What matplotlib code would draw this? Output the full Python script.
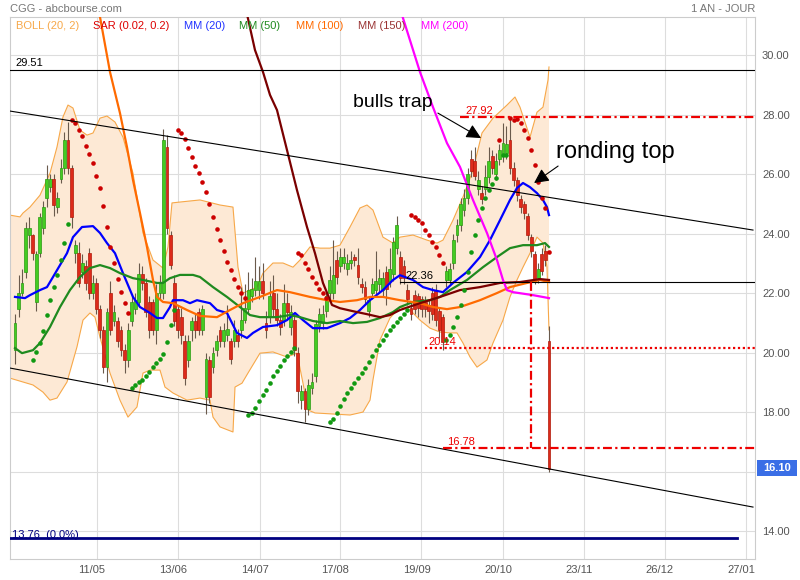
import matplotlib
matplotlib.use("Agg")
import matplotlib.pyplot as plt
import numpy as np
from matplotlib.patches import Rectangle
from matplotlib.transforms import ScaledTranslation

plt.rcParams["font.family"] = ["Liberation Sans", "DejaVu Sans"]

# --- daily candles (index = trading day) ---------------------------------
opens = [20.1, 21.45, 22.0, 22.7, 23.95, 23.95, 21.7, 23.35, 24.2, 25.2,
         25.55, 25.85, 24.9, 25.85, 26.2, 27.15, 26.2, 23.35, 23.35, 22.7,
         22.9, 23.35, 22.0, 22.35, 21.45, 20.75, 19.5, 22.0, 21.05, 21.05,
         20.75, 20.1, 19.75, 21.05, 21.45, 21.7, 22.65, 22.35, 21.7, 21.7,
         20.75, 22.0, 22.0, 26.9, 23.95, 22.35, 21.45, 21.2, 20.4, 19.75,
         20.75, 21.05, 21.35, 20.75, 18.5, 19.75, 19.5, 20.1, 20.75, 20.4,
         20.6, 20.4, 20.4, 20.6, 20.75, 21.1, 21.45, 21.9, 22.1, 22.1,
         22.4, 21.0, 21.2, 22.0, 21.45, 21.1, 21.1, 21.65, 20.85, 21.1,
         20.0, 18.4, 18.7, 18.1, 18.8, 19.2, 20.9, 21.0, 21.4, 22.0,
         22.0, 23.1, 22.9, 23.0, 22.8, 23.0, 23.2, 22.95, 22.3, 22.2,
         21.4, 22.0, 22.1, 22.3, 22.1, 22.7, 22.4, 22.65, 23.5, 23.2,
         22.9, 22.1, 21.5, 21.95, 21.9, 21.8, 21.7, 21.6, 22.0, 22.1,
         21.4, 21.2, 22.45, 22.45, 23.0, 23.95, 24.3, 24.8, 25.2, 26.5,
         26.45, 25.5, 25.35, 25.5, 25.9, 26.6, 26.0, 26.5, 26.6, 26.7,
         27.15, 26.2, 25.8, 25.15, 25.0, 24.6, 23.9, 23.3, 22.5, 23.3,
         23.4, 20.4]
closes = [21.0, 22.0, 22.35, 24.2, 24.2, 23.35, 23.3, 24.55, 24.9, 25.85,
          25.85, 24.95, 25.2, 26.2, 27.15, 26.2, 24.55, 23.6, 22.35, 23.0,
          22.35, 22.0, 22.35, 21.45, 20.75, 19.5, 21.35, 20.75, 21.35, 20.4,
          20.1, 19.75, 20.75, 21.7, 21.75, 22.65, 22.35, 21.35, 20.75, 20.75,
          22.0, 22.35, 27.15, 24.2, 22.95, 21.05, 20.75, 20.6, 19.15, 20.4,
          21.05, 20.75, 20.75, 21.45, 19.8, 18.5, 20.0, 20.4, 20.4, 20.75,
          20.8, 19.8, 20.75, 20.4, 21.1, 21.5, 22.1, 22.15, 22.4, 22.4,
          22.0, 20.75, 21.9, 21.45, 21.1, 20.85, 21.65, 21.35, 21.35, 20.1,
          18.7, 18.7, 18.1, 18.9, 19.0, 20.95, 21.3, 21.3, 21.9, 22.45,
          22.6, 22.55, 23.2, 23.2, 23.0, 23.1, 23.1, 22.55, 22.2, 21.8,
          21.75, 22.3, 22.4, 22.5, 22.5, 22.15, 22.8, 23.7, 24.3, 22.5,
          22.5, 21.8, 21.3, 21.45, 21.5, 21.45, 21.45, 21.4, 21.3, 21.1,
          20.75, 20.35, 22.75, 22.8, 23.8, 24.3, 25.0, 25.2, 26.0, 26.1,
          25.95, 25.8, 25.15, 25.9, 26.45, 26.2, 26.45, 26.8, 27.05, 27.0,
          26.2, 25.8, 25.3, 24.9, 24.7, 23.95, 23.4, 22.45, 22.8, 22.75,
          23.1, 16.1]
highs = [21.3, 22.6, 22.8, 24.4, 24.55, 24.0, 23.4, 24.7, 25.1, 26.3,
         26.0, 26.0, 25.4, 26.5, 27.4, 27.75, 26.3, 23.8, 23.7, 23.3,
         23.1, 23.5, 22.6, 22.5, 21.6, 20.9, 21.5, 22.4, 21.6, 21.2,
         20.9, 20.3, 21.0, 21.9, 22.0, 23.0, 22.9, 22.5, 21.9, 21.8,
         22.3, 22.6, 27.5, 27.3, 24.1, 22.6, 21.6, 21.5, 20.6, 20.6,
         21.2, 21.3, 21.5, 21.6, 20.0, 19.9, 20.2, 20.6, 20.9, 21.0,
         21.6, 20.5, 21.1, 20.8, 22.2, 22.3, 22.7, 22.5, 23.2, 22.9,
         23.0, 21.4, 22.4, 22.6, 22.0, 21.3, 22.3, 22.0, 21.6, 21.3,
         20.2, 18.9, 18.8, 19.1, 19.3, 21.1, 21.5, 21.6, 22.1, 22.9,
         23.8, 23.4, 23.5, 23.5, 23.3, 23.4, 23.3, 23.5, 22.5, 22.4,
         21.9, 22.5, 23.4, 22.8, 22.7, 22.9, 23.5, 23.9, 24.6, 23.4,
         23.1, 22.3, 21.7, 22.1, 22.0, 21.9, 21.9, 21.8, 22.2, 22.3,
         21.5, 21.3, 22.9, 23.0, 24.0, 24.5, 25.2, 25.5, 26.2, 26.8,
         26.9, 26.1, 25.6, 26.3, 26.9, 26.8, 26.7, 27.0, 27.7, 27.6,
         27.9, 26.4, 25.9, 25.3, 25.1, 24.7, 24.0, 23.4, 23.0, 23.5,
         23.6, 20.9]
lows = [19.6, 21.2, 21.9, 22.5, 23.5, 23.1, 21.4, 23.2, 24.0, 24.9,
        25.4, 24.6, 24.7, 25.7, 26.0, 26.0, 24.2, 23.0, 22.2, 22.5,
        22.1, 21.8, 21.8, 21.3, 20.5, 19.3, 19.0, 20.6, 20.9, 20.2,
        19.9, 19.3, 19.5, 20.9, 21.3, 21.6, 22.1, 21.2, 20.5, 20.6,
        20.3, 21.8, 21.8, 24.0, 22.8, 20.9, 20.5, 20.3, 18.9, 19.5,
        20.4, 20.5, 20.6, 20.6, 17.95, 18.3, 19.3, 19.9, 20.2, 20.2,
        20.4, 19.6, 20.2, 20.2, 20.5, 21.0, 21.3, 21.7, 21.9, 21.8,
        21.8, 20.5, 21.0, 21.2, 20.9, 20.6, 20.9, 21.1, 20.6, 19.9,
        18.3, 18.1, 17.65, 17.9, 18.6, 19.0, 20.7, 20.8, 21.2, 21.8,
        21.8, 22.3, 22.7, 22.8, 22.6, 22.8, 22.9, 22.3, 22.0, 21.6,
        21.2, 21.8, 21.9, 22.0, 21.9, 21.6, 22.2, 22.4, 23.3, 22.3,
        22.3, 21.6, 21.1, 21.3, 21.2, 21.2, 21.2, 21.0, 21.1, 20.9,
        20.5, 20.1, 22.2, 22.3, 22.8, 23.7, 24.1, 24.6, 25.0, 25.9,
        25.8, 25.3, 25.0, 25.3, 25.7, 26.0, 25.8, 26.3, 26.4, 26.5,
        26.0, 25.6, 25.1, 24.7, 24.5, 23.8, 23.2, 22.3, 22.35, 22.6,
        22.9, 16.0]

# --- Bollinger (20, 2) envelope -------------------------------------------
boll_up_x = [-1.41, 1.41, 2.26, 4.24, 7.07, 9.9, 11.88, 13.57, 14.99, 16.4,
             18.38, 20.36, 22.06, 24.04, 26.02, 28.28, 30.54, 33.37, 36.2, 39.03,
             41.86, 43.27, 44.4, 46.66, 52.32, 57.98, 61.65, 63.07, 64.48, 68.44,
             70.14, 72.96, 75.79, 78.62, 80.6, 83.43, 86.26, 89.08, 91.91, 94.74,
             97.57, 99.55, 101.24, 104.07, 106.9, 108.88, 112.56, 116.52, 119.34, 121.04,
             123.87, 126.7, 129.52, 132.07, 135.18, 139.14, 141.4, 142.82, 145.65, 147.62,
             149.32, 150.74, 151.02]
boll_up_v = [24.62, 24.56, 24.69, 24.89, 25.29, 26.03, 26.91, 27.92, 28.32, 28.22,
             27.48, 27.31, 27.38, 27.88, 27.95, 27.75, 27.24, 26.03, 24.02, 23.11,
             22.84, 23.55, 25.03, 25.06, 25.13, 24.96, 24.89, 22.87, 22.0, 22.20,
             22.67, 23.01, 23.01, 22.87, 23.11, 23.55, 23.51, 23.51, 23.61, 24.22,
             24.86, 24.96, 24.79, 23.88, 23.68, 23.88, 23.95, 23.78, 23.68, 23.78,
             24.45, 25.23, 26.13, 27.38, 27.88, 28.32, 28.59, 28.25, 27.24, 28.08,
             28.25, 29.16, 29.6]
boll_lo_x = [-1.41, 2.26, 5.09, 7.92, 9.9, 11.88, 14.71, 17.53, 19.23, 21.21,
             22.62, 24.04, 26.87, 29.69, 31.96, 34.5, 36.2, 38.18, 41.01, 42.42,
             44.68, 48.64, 52.32, 55.15, 56.0, 57.98, 61.65, 62.22, 64.2, 65.89,
             69.29, 72.96, 76.92, 79.75, 81.45, 82.86, 84.84, 94.74, 98.42, 100.4,
             101.24, 103.22, 106.05, 108.88, 111.71, 114.54, 117.36, 120.19, 123.02, 125.0,
             126.7, 128.68, 130.66, 133.48, 135.18, 138.01, 139.99, 141.97, 143.67, 145.65,
             147.62, 149.32, 150.45, 151.02]
boll_lo_v = [19.14, 19.01, 18.91, 18.67, 18.40, 18.47, 19.01, 20.19, 21.09, 21.33,
             21.19, 20.52, 19.31, 18.40, 17.83, 18.17, 19.31, 19.41, 19.41, 18.84,
             18.64, 18.40, 18.47, 18.40, 17.83, 17.50, 17.33, 18.84, 18.97, 19.31,
             19.98, 20.02, 19.85, 19.98, 18.97, 18.07, 17.97, 17.90, 18.0, 18.40,
             19.08, 20.42, 21.16, 21.53, 21.43, 21.09, 20.82, 20.69, 20.66, 20.66,
             20.32, 19.85, 19.51, 19.75, 20.32, 21.09, 21.87, 22.44, 22.87, 23.34,
             23.88, 23.68, 22.87, 20.76]

# --- moving averages ------------------------------------------------------
mm20_x = [0, 2.83, 4.24, 7.07, 9.05, 10.75, 12.73, 14.71, 16.4, 18.95,
          22.06, 24.04, 26.02, 28.28, 30.54, 33.37, 35.35, 38.18, 40.16, 41.86,
          43.83, 44.68, 47.51, 49.49, 51.47, 55.15, 57.13, 59.95, 62.78, 65.61,
          67.31, 70.14, 74.1, 76.92, 79.19, 81.45, 84.28, 88.24, 91.91, 94.74,
          97.57, 100.4, 104.07, 106.9, 108.88, 112.56, 115.38, 118.21, 121.04, 123.87,
          127.83, 131.5, 134.33, 137.16, 139.99, 141.97, 143.67, 145.65, 147.62, 149.32,
          150.45, 151.02]
mm20_v = [21.87, 21.83, 21.93, 22.10, 22.20, 22.54, 22.94, 23.34, 23.88, 24.22,
          24.25, 24.02, 23.68, 23.34, 22.67, 21.87, 21.53, 21.33, 21.16, 21.16,
          21.53, 21.76, 21.76, 21.66, 21.76, 21.66, 21.43, 21.33, 20.66, 20.49,
          20.66, 20.86, 20.92, 21.09, 21.33, 21.09, 20.82, 20.82, 20.99, 21.16,
          21.43, 21.76, 22.10, 22.44, 22.60, 22.44, 22.20, 22.10, 22.03, 22.34,
          22.71, 23.21, 23.78, 24.45, 25.13, 25.53, 25.70, 25.56, 25.36, 25.13,
          24.89, 24.62]
mm50_x = [0, 1.98, 5.09, 7.07, 9.9, 12.73, 15.55, 18.38, 21.21, 24.04,
          26.87, 29.69, 33.37, 36.2, 40.16, 41.86, 43.83, 46.66, 50.34, 52.32,
          56.0, 59.95, 63.63, 66.46, 69.29, 74.1, 77.77, 80.6, 84.28, 88.24,
          91.91, 95.59, 99.55, 103.22, 106.9, 108.88, 112.56, 117.36, 120.19, 123.02,
          127.83, 132.35, 136.31, 139.99, 143.67, 147.62, 149.89, 151.02]
mm50_v = [20.15, 19.98, 20.08, 20.32, 20.86, 21.53, 22.10, 22.54, 22.84, 22.94,
          22.84, 22.67, 22.50, 22.44, 22.34, 22.34, 22.50, 22.61, 22.61, 22.54,
          22.20, 21.87, 21.53, 21.26, 21.19, 21.19, 21.26, 21.19, 21.06, 20.99,
          21.06, 20.99, 21.03, 21.16, 21.36, 21.53, 21.70, 21.76, 21.87, 22.10,
          22.44, 22.87, 23.21, 23.51, 23.61, 23.61, 23.68, 23.55]
mm100_x = [22.6, 24.04, 26.87, 29.69, 31.67, 33.37, 35.35, 37.33, 39.03, 40.16,
           41.86, 44.68, 48.64, 52.32, 57.13, 60.8, 64.48, 69.29, 74.1, 77.77,
           83.43, 88.24, 91.91, 96.72, 100.4, 104.07, 108.88, 114.54, 118.21, 122.17,
           125.85, 131.5, 136.31, 139.99, 144.8, 148.47, 151.02]
mm100_v = [31.7, 31.28, 29.43, 28.05, 26.91, 25.80, 24.69, 23.55, 22.44, 21.87,
           21.70, 21.66, 21.43, 21.23, 21.19, 21.43, 21.66, 21.87, 22.10, 22.03,
           21.87, 21.76, 21.70, 21.76, 21.87, 21.87, 21.76, 21.66, 21.53, 21.46,
           21.53, 21.76, 22.0, 22.20, 22.34, 22.44, 22.37]
mm150_x = [65.05, 67.87, 70.14, 72.12, 74.1, 76.92, 79.75, 82.58, 84.84, 87.1,
           89.65, 91.91, 95.59, 99.55, 103.22, 106.05, 108.88, 114.54, 120.19, 125.85,
           131.5, 137.16, 142.82, 148.47, 151.02]
mm150_v = [31.68, 30.17, 29.43, 28.66, 28.15, 26.81, 25.46, 24.22, 23.34, 22.34,
           21.60, 21.49, 21.39, 21.29, 21.19, 21.26, 21.43, 21.66, 21.87, 22.10,
           22.20, 22.34, 22.37, 22.47, 22.44]
mm200_x = [108.88, 109.45, 114.54, 118.21, 122.17, 125.85, 129.52, 133.48, 136.31, 138.01,
           139.14, 140.84, 146.49, 151.02]
mm200_v = [31.68, 31.35, 29.43, 28.25, 27.04, 26.24, 25.13, 24.02, 23.11, 22.44,
           22.10, 22.03, 21.93, 21.83]

# --- parabolic SAR (0.02, 0.2): first day of each run + its values --------
sar_up_starts = [5, 33, 66, 89, 122, 138]
sar_up_values = [
    [19.75, 20.02, 20.32, 20.72, 21.26, 21.76, 22.20, 22.60, 23.11, 23.68, 24.32],
    [18.81, 18.91, 19.01, 19.08, 19.21, 19.34, 19.51, 19.65, 19.78, 19.95, 20.35, 20.92, 21.43],
    [17.90, 17.97, 18.13, 18.37, 18.57, 18.74, 18.97, 19.21, 19.38, 19.55, 19.75, 19.88, 20.02, 20.15],
    [17.66, 17.76, 17.97, 18.20, 18.44, 18.64, 18.81, 18.97, 19.14, 19.31, 19.48, 19.68,
     19.88, 20.08, 20.25, 20.42, 20.59, 20.76, 20.89, 21.03, 21.16, 21.29, 21.43],
    [20.42, 20.59, 20.86, 21.19, 21.60, 22.10, 22.71, 23.38, 23.95, 24.45, 24.86, 25.19,
     25.46, 25.66, 25.87],
    [26.64, 26.64],
]
sar_down_starts = [16, 46, 80, 112, 137, 140]
sar_down_values = [
    [27.82, 27.71, 27.48, 27.28, 26.94, 26.67, 26.37, 25.93, 25.53, 24.92, 24.22, 23.55,
     23.01, 22.47, 22.03, 21.66, 21.33],
    [27.48, 27.38, 27.18, 26.87, 26.57, 26.27, 26.03, 25.73, 25.39, 24.99, 24.55, 24.15,
     23.78, 23.41, 23.04, 22.77, 22.47, 22.20, 22.0, 21.83],
    [23.34, 23.28, 23.01, 22.81, 22.54, 22.34, 22.13, 22.0, 21.83],
    [24.62, 24.56, 24.45, 24.35, 24.12, 23.95, 23.71, 23.55, 23.28, 23.01],
    [27.14],
    [27.88, 27.82, 27.85, 27.71, 27.48, 27.21, 26.81, 26.30, 25.73, 25.19, 24.85, 23.37],
]

# --- drawn levels / trend channel ------------------------------------------
channel_x = [-1.41, 208.71]
channel_top = [28.118, 24.118]
channel_bottom = [19.479, 14.806]
resistance = 29.51
support_low = 13.76
pivot = 22.36
level_high = 27.92
level_mid = 20.14
level_low = 16.78
last_price = 16.10

x_tick_pos = [23.19, 46.24, 69.15, 92.05, 114.96, 138.01, 160.92, 183.82, 206.73]
x_tick_labels = ["11/05", "13/06", "14/07", "17/08", "19/09", "20/10", "23/11", "26/12", "27/01"]
y_ticks = [14, 16, 18, 20, 22, 24, 26, 28, 30]

fig = plt.figure(figsize=(8, 5.8), dpi=100)
ax = fig.add_axes([10 / 800, 21 / 580, 745 / 800, 542 / 580])
ax.set_xlim(-1.41, 209.28)
ax.set_ylim(13.06, 31.28)

for v in y_ticks:
    ax.axhline(v, color="#dddddd", lw=0.8, zorder=0)
for x in x_tick_pos:
    ax.axvline(x, color="#dddddd", lw=0.8, zorder=0)
for s in ax.spines.values():
    s.set_color("#cccccc")
    s.set_linewidth(0.8)

# Bollinger band
ax.fill(np.r_[boll_up_x, boll_lo_x[::-1]], np.r_[boll_up_v, boll_lo_v[::-1]],
        color="#fde9d5", lw=0, zorder=1)
ax.plot(boll_up_x, boll_up_v, color="#f7a849", lw=0.8, zorder=1.5)
ax.plot(boll_lo_x, boll_lo_v, color="#f7a849", lw=0.8, zorder=1.5)

# candles
o = np.array(opens)
c = np.array(closes)
idx = np.arange(len(o))
up = c >= o
ax.vlines(idx, lows, highs, color="#6a5a4c", lw=0.8, zorder=3)
ax.bar(idx[up], (c - o)[up], bottom=o[up], width=0.8, color="#44cc22",
       edgecolor="#2a9a12", lw=0.5, zorder=4)
ax.bar(idx[~up], (o - c)[~up], bottom=c[~up], width=0.8, color="#dd2a1a",
       edgecolor="#b01a0a", lw=0.5, zorder=4)

# moving averages
ax.plot(mm20_x, mm20_v, color="#0000ff", lw=1.6, zorder=5)
ax.plot(mm50_x, mm50_v, color="#1f8a1f", lw=1.6, zorder=5)
ax.plot(mm100_x, mm100_v, color="#ff6a00", lw=1.6, zorder=5)
ax.plot(mm150_x, mm150_v, color="#7a0000", lw=1.6, zorder=5)
ax.plot(mm200_x, mm200_v, color="#ff00ff", lw=1.6, zorder=5)

# SAR dots
for start, vals in zip(sar_up_starts, sar_up_values):
    ax.plot(np.arange(start, start + len(vals)), vals, "o", color="#119911",
            ms=3.3, mew=0, zorder=6)
for start, vals in zip(sar_down_starts, sar_down_values):
    ax.plot(np.arange(start, start + len(vals)), vals, "o", color="#cc0000",
            ms=3.3, mew=0, zorder=6)

# channel and horizontal levels
ax.plot(channel_x, channel_top, color="black", lw=0.8, zorder=6)
ax.plot(channel_x, channel_bottom, color="black", lw=0.8, zorder=6)
ax.axhline(resistance, color="black", lw=0.8, zorder=6)
ax.plot([108.9, 209.28], [pivot, pivot], color="black", lw=0.8, zorder=6)
ax.plot([-1.41, 204.2], [support_low, support_low], color="#000080", lw=2, zorder=6)

dashdot = (0, (4, 1.5, 1, 1.5))
ax.plot([125.85, 209.28], [level_high, level_high], color="#ee0000", lw=1.6, ls=dashdot, zorder=7)
ax.plot([115.95, 209.28], [level_mid, level_mid], color="#ee0000", lw=1.6, ls=(0, (1, 1.2)), zorder=7)
ax.plot([121.04, 209.28], [level_low, level_low], color="#ee0000", lw=1.6, ls=dashdot, zorder=7)
ax.plot([145.9, 145.9], [pivot, level_low], color="#ee0000", lw=1.6, ls=dashdot, zorder=7)

lab = dict(textcoords="offset points", va="bottom", ha="left", fontsize=8, zorder=8)
ax.annotate(f"{resistance:.2f}", (0, resistance), xytext=(0, 1), color="black", **lab)
ax.annotate(f"{pivot:.2f}", (110.3, pivot), xytext=(0, 1), color="black", **lab)
ax.annotate(f"{support_low:.2f}  (0.0%)", (-0.85, support_low), xytext=(0, -1), color="#000080", **lab)
ax.annotate(f"{level_high:.2f}", (127.3, level_high), xytext=(0, 1), color="#ee0000", **lab)
ax.annotate(f"{level_mid:.2f}", (117.0, level_mid), xytext=(0, 1), color="#ee0000", **lab)
ax.annotate(f"{level_low:.2f}", (122.2, level_low), xytext=(0, 1), color="#ee0000", **lab)

# comments
ax.text(106.9, 28.42, "bulls trap", fontsize=14, ha="center", va="center", zorder=8)
ax.annotate("", xy=(131.8, 27.21), xytext=(119.6, 28.05),
            arrowprops=dict(arrowstyle="-|>", color="black", lw=0.8,
                            mutation_scale=22, shrinkA=0, shrinkB=0), zorder=8)
ax.text(169.7, 26.74, "ronding top", fontsize=17, ha="center", va="center", zorder=8)
ax.annotate("", xy=(146.8, 25.70), xytext=(153.6, 26.27),
            arrowprops=dict(arrowstyle="-|>", color="black", lw=0.8,
                            mutation_scale=22, shrinkA=0, shrinkB=0), zorder=8)

# axes ticks
ax.yaxis.tick_right()
shown = [v for v in y_ticks if v != 16]
ax.set_yticks(shown, [f"{v:.2f}" for v in shown])
ax.tick_params(axis="y", length=0, pad=5, labelsize=8, labelcolor="#555555")
ax.set_xticks(x_tick_pos, x_tick_labels)
ax.tick_params(axis="x", length=0, pad=4, labelsize=8, labelcolor="#555555")
shift = ScaledTranslation(-5 / 100, 0, fig.dpi_scale_trans)
for t in ax.get_xticklabels():
    t.set_transform(t.get_transform() + shift)

# header and legend row
fig.text(10 / 800, 1 - 9 / 580, "CGG - abcbourse.com", fontsize=8, color="#777777", va="center")
fig.text(755 / 800, 1 - 9 / 580, "1 AN - JOUR", fontsize=8, color="#777777", va="center", ha="right")
legend_items = [("BOLL (20, 2)", "#f7a849", 16), ("SAR (0.02, 0.2)", "#dd0000", 93),
                ("MM (20)", "#2233ff", 184), ("MM (50)", "#1f8a1f", 239),
                ("MM (100)", "#ff6a00", 296), ("MM (150)", "#993333", 358),
                ("MM (200)", "#ff00ff", 421)]
for name, col, px in legend_items:
    fig.text(px / 800, 1 - 26 / 580, name, fontsize=8, color=col, va="center")

# last price tag
fig.add_artist(Rectangle((757 / 800, 1 - 476 / 580), 40 / 800, 16 / 580,
                         transform=fig.transFigure, color="#3a6ee6", lw=0))
fig.text(777 / 800, 1 - 468 / 580, f"{last_price:.2f}", fontsize=8, color="white",
         fontweight="bold", ha="center", va="center")

fig.savefig("out.png", dpi=100, facecolor="white")
